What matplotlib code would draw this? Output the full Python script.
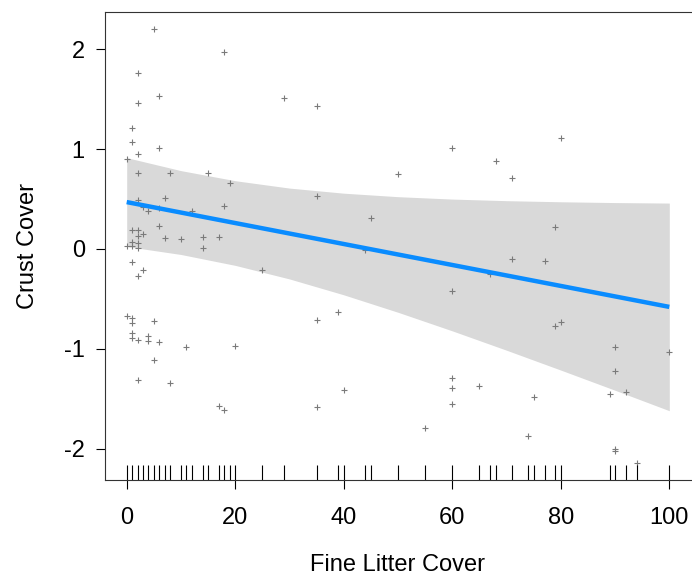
import numpy as np
import matplotlib.pyplot as plt
import matplotlib.transforms as mtransforms

plt.rcParams['font.family'] = ['Liberation Sans', 'DejaVu Sans']
plt.rcParams['axes.unicode_minus'] = False

# partial residuals: fine litter cover (%) vs crust cover
litter = [0, 0, 0,
          1, 1, 1, 1, 1, 1, 1, 1, 1, 1,
          2, 2, 2, 2, 2, 2, 2, 2, 2, 2, 2, 2,
          3, 3, 3,
          4, 4, 4,
          5, 5, 5,
          6, 6, 6, 6, 6,
          7, 7,
          8, 8,
          10, 11, 12, 14, 14, 15, 17, 17, 18, 18, 18, 19, 20, 25, 29,
          35, 35, 35, 35, 39, 40, 44, 45, 50, 55,
          60, 60, 60, 60, 60, 65, 67, 68, 71, 71, 74, 75, 77, 79, 79, 80, 80,
          89, 90, 90, 90, 90, 92, 94, 100]
crust = [0.90, 0.03, -0.67,
         1.21, 1.07, 0.19, 0.07, 0.03, -0.13, -0.69, -0.74, -0.84, -0.89,
         1.76, 1.46, 0.95, 0.76, 0.49, 0.19, 0.13, 0.06, 0.01, -0.27, -0.91, -1.31,
         0.42, 0.15, -0.21,
         0.38, -0.87, -0.92,
         2.20, -0.72, -1.11,
         1.53, 1.01, 0.41, 0.23, -0.93,
         0.51, 0.11,
         0.76, -1.34,
         0.10, -0.98, 0.38, 0.12, 0.01, 0.76, 0.12, -1.57, 1.97, 0.43, -1.61, 0.66, -0.97, -0.21, 1.51,
         1.43, 0.53, -0.71, -1.58, -0.63, -1.41, -0.01, 0.31, 0.75, -1.79,
         1.01, -0.42, -1.29, -1.39, -1.55, -1.37, -0.25, 0.88, 0.71, -0.10, -1.87, -1.48, -0.12, 0.22, -0.77, 1.11, -0.73,
         -1.45, -0.98, -1.22, -2.00, -2.02, -1.43, -2.14, -1.03]

# fitted line and 95% band
grid_x = [0, 10, 20, 30, 40, 50, 60, 70, 80, 90, 100]
fit_y = [0.470, 0.365, 0.260, 0.155, 0.050, -0.055, -0.160, -0.265, -0.370, -0.475, -0.580]
band_lo = [0.025, -0.055, -0.164, -0.300, -0.459, -0.634, -0.820, -1.014, -1.213, -1.415, -1.620]
band_hi = [0.915, 0.785, 0.684, 0.610, 0.559, 0.524, 0.500, 0.484, 0.473, 0.465, 0.460]

x_ticks = [0, 20, 40, 60, 80, 100]
y_ticks = [-2, -1, 0, 1, 2]

fig = plt.figure(figsize=(6.92, 5.76), dpi=100)
ax = fig.add_axes([105 / 692, 96 / 576, 586 / 692, 468 / 576])

ax.fill_between(grid_x, band_lo, band_hi, color='#d9d9d9', linewidth=0, zorder=1)
ax.plot(litter, crust, linestyle='none', marker='+', markersize=3.8,
        markeredgewidth=0.8, color='#7a7a7a', zorder=2)
ax.plot(grid_x, fit_y, color='#0a8cff', linewidth=3.2, solid_capstyle='butt', zorder=3)

# rug along the bottom
trans = mtransforms.blended_transform_factory(ax.transData, ax.transAxes)
ax.vlines(sorted(set(litter)), 0, 0.032, transform=trans, color='black', linewidth=0.8)

ax.set_xlim(-4, 104)
ax.set_ylim(-2.314, 2.374)
ax.set_xticks(x_ticks)
ax.set_yticks(y_ticks)
ax.tick_params(direction='out', length=6.5, width=0.8, labelsize=17, color='black')
ax.tick_params(axis='x', pad=13)
ax.tick_params(axis='y', pad=8)
for s in ax.spines.values():
    s.set_linewidth(0.8)
    s.set_color('#333333')
ax.spines['right'].set_visible(False)

ax.set_xlabel('Fine Litter Cover', fontsize=17, labelpad=18)
ax.set_ylabel('Crust Cover', fontsize=17, labelpad=18)

fig.savefig('out.png', dpi=100)
